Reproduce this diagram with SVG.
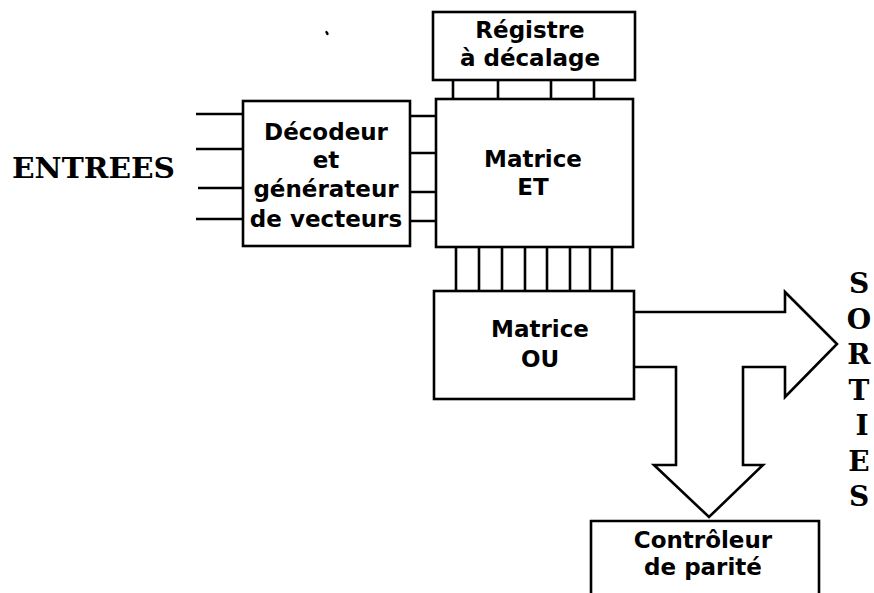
<svg xmlns="http://www.w3.org/2000/svg" width="874" height="593" viewBox="0 0 874 593">
<style>
.box{fill:#fff;stroke:#000;stroke-width:2.6}
.ln{stroke:#000;stroke-width:2.6;fill:none}
.lbl{font-family:"DejaVu Sans",sans-serif;font-weight:bold;font-size:23px;text-anchor:middle;fill:#000}
.big{font-family:"DejaVu Serif","Liberation Serif",serif;font-weight:bold;font-size:28px;fill:#000}
.sl{text-anchor:middle}
</style>
<rect width="874" height="593" fill="#fff"/>
<ellipse cx="327" cy="33" rx="1.3" ry="2.4" transform="rotate(-30 327 33)" fill="#000"/>
<g id="connectors">
  <path class="ln" d="M196,114H243M196,149H243M198,188H243M196,219H243"/>
  <path class="ln" d="M410,116H436M410,153H436M410,192H436M410,221H436"/>
  <path class="ln" d="M453,80V99M498,80V99M551,80V99M594,80V99"/>
  <path class="ln" d="M456,247V291M479,247V291M502,247V291M525,247V291M547,247V291M570,247V291M590,247V291M612,247V291"/>
  <path class="ln" stroke-linejoin="miter" d="M634,312H785V292L837,344L785,397V367H743V465H763L709,517L654,465H676V367H634"/>
</g>
<g id="registre">
  <rect class="box" x="433" y="12" width="202" height="68"/>
  <text class="lbl" x="530" y="38">Régistre</text>
  <text class="lbl" x="530" y="66">à décalage</text>
</g>
<g id="decodeur">
  <rect class="box" x="243" y="101" width="167" height="145"/>
  <text class="lbl" x="326" y="140">Décodeur</text>
  <text class="lbl" x="326" y="168">et</text>
  <text class="lbl" x="326" y="197">générateur</text>
  <text class="lbl" x="326" y="227">de vecteurs</text>
</g>
<g id="matrice-et">
  <rect class="box" x="436" y="99" width="197" height="148"/>
  <text class="lbl" x="533" y="167">Matrice</text>
  <text class="lbl" x="533" y="195">ET</text>
</g>
<g id="matrice-ou">
  <rect class="box" x="434" y="291" width="200" height="108"/>
  <text class="lbl" x="540" y="337">Matrice</text>
  <text class="lbl" x="540" y="367">OU</text>
</g>
<g id="controleur">
  <path class="box" d="M591,600V521H819V600"/>
  <text class="lbl" x="703" y="548">Contrôleur</text>
  <text class="lbl" x="703" y="575">de parité</text>
</g>
<g id="entrees">
  <text class="big" x="12" y="178" textLength="163" lengthAdjust="spacingAndGlyphs">ENTREES</text>
</g>
<g id="sorties">
  <text class="big sl" x="859" y="293">S</text>
  <text class="big sl" x="859" y="329">O</text>
  <text class="big sl" x="859" y="364">R</text>
  <text class="big sl" x="859" y="400">T</text>
  <text class="big sl" x="862" y="435">I</text>
  <text class="big sl" x="859" y="471">E</text>
  <text class="big sl" x="859" y="506">S</text>
</g>
</svg>
